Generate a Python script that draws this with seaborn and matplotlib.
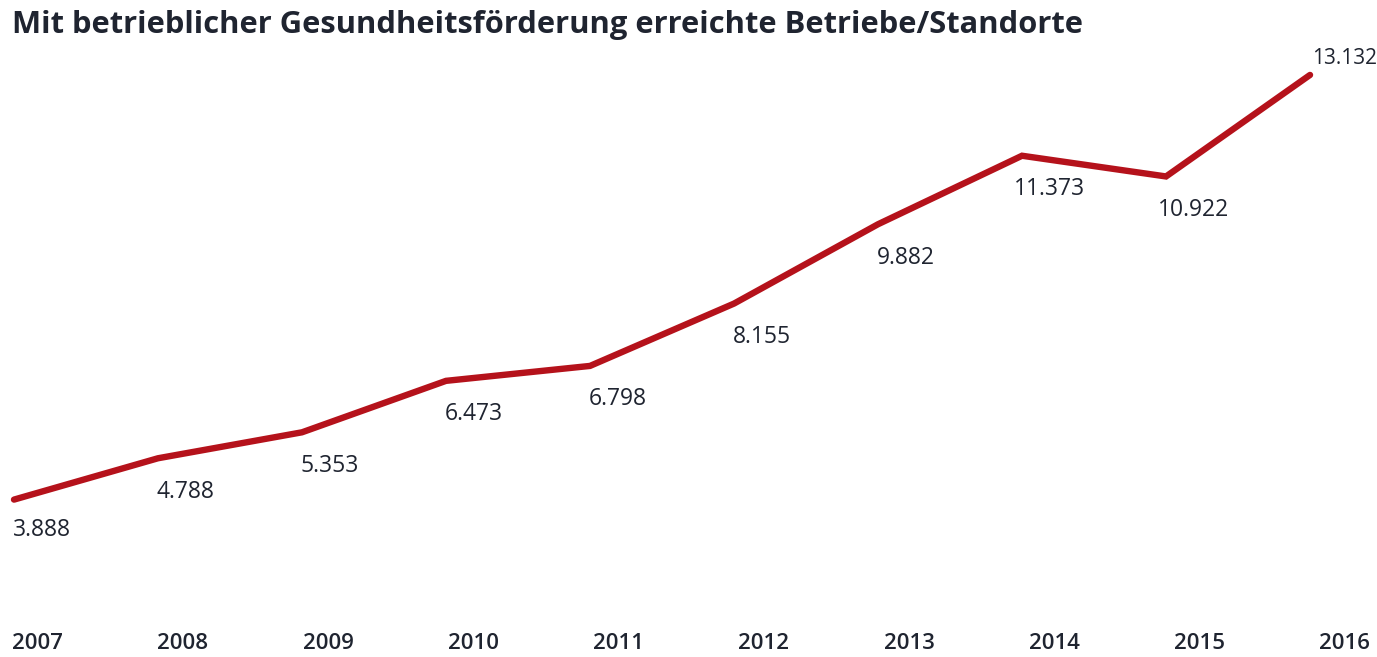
import matplotlib
matplotlib.use("Agg")
import matplotlib.pyplot as plt
import seaborn as sns
import pandas as pd

years = ["2007", "2008", "2009", "2010", "2011", "2012", "2013", "2014", "2015", "2016"]
values = [3888, 4788, 5353, 6473, 6798, 8155, 9882, 11373, 10922, 13132]
value_labels = ["3.888", "4.788", "5.353", "6.473", "6.798", "8.155", "9.882", "11.373", "10.922", "13.132"]
title = "Mit betrieblicher Gesundheitsförderung erreichte Betriebe/Standorte"

sns.set_theme(style="white")
plt.rcParams["font.family"] = ["Open Sans", "DejaVu Sans"]

RED = "#b5121b"
TXT = "#1f2430"

df = pd.DataFrame({"idx": range(len(years)), "value": values})

fig = plt.figure(figsize=(13.77, 6.57), dpi=100)
ax = fig.add_axes([0, 0, 1, 1])
sns.lineplot(data=df, x="idx", y="value", ax=ax, color=RED, linewidth=4.6,
             solid_capstyle="round", solid_joinstyle="miter")
ax.set_xlim(-0.0972, 9.465)
ax.set_ylim(462, 14763)
for s in ax.spines.values():
    s.set_visible(False)
ax.set_xlabel("")
ax.set_ylabel("")
ax.set_yticks([])
ax.set_xticks([])

# year labels along the bottom
for i, y in enumerate(years):
    ax.annotate(y, xy=(i, 0), xycoords=("data", "axes fraction"),
                xytext=(17 + 0.9 * i, 9.5), textcoords="offset points",
                ha="center", va="center", fontsize=16, color=TXT, fontweight="semibold")

# value labels
for i, (v, lab) in enumerate(zip(values, value_labels)):
    if i == 0:
        ax.annotate(lab, xy=(i, v), xytext=(-1, -22), textcoords="offset points",
                    ha="left", va="center", fontsize=16.5, color=TXT)
    elif i == len(values) - 1:
        ax.annotate(lab, xy=(i, v), xytext=(1.5, 12), textcoords="offset points",
                    ha="left", va="center", fontsize=15, color=TXT)
    else:
        ax.annotate(lab, xy=(i, v), xytext=(20, -24), textcoords="offset points",
                    ha="center", va="center", fontsize=16.5, color=TXT)

fig.text(12 / 1377, 1 - 25 / 657, title, ha="left", va="center",
         fontsize=22.2, fontweight="bold", color=TXT)

fig.savefig("out.png", dpi=100)
